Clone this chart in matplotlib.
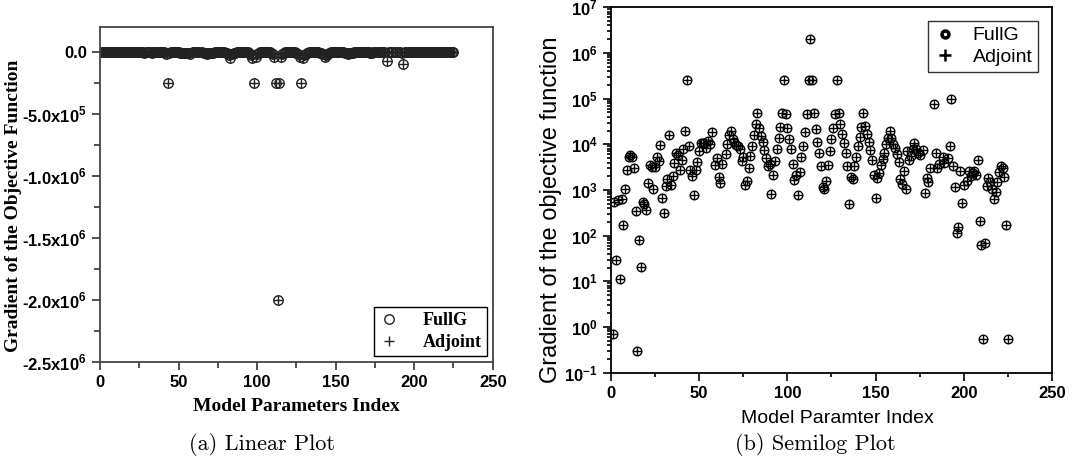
import matplotlib
matplotlib.use("Agg")
import matplotlib.pyplot as plt
from matplotlib.ticker import MultipleLocator, FixedLocator, FixedFormatter, LogLocator, NullFormatter

plt.rcParams['axes.unicode_minus'] = False

# parameter index and gradient magnitude
index = [1, 2, 3, 4, 5, 6, 7, 8, 9, 10, 11, 12, 13, 14, 15, 16, 17, 18, 19, 20,
         21, 22, 23, 24, 25, 26, 27, 28, 29, 30, 31, 32, 33, 34, 35, 36, 37, 38, 39, 40,
         41, 42, 43, 44, 45, 46, 47, 48, 49, 50, 51, 52, 53, 54, 55, 56, 57, 59, 60, 61,
         62, 63, 65, 66, 67, 68, 69, 70, 71, 72, 73, 74, 75, 76, 77, 78, 79, 80, 81, 82,
         83, 84, 85, 86, 87, 88, 89, 90, 91, 92, 93, 94, 95, 96, 97, 98, 99, 100, 101, 102,
         103, 104, 105, 106, 107, 108, 109, 110, 111, 112, 113, 114, 115, 116, 117, 118, 119, 120, 121, 122,
         123, 124, 125, 126, 127, 128, 129, 130, 131, 132, 133, 134, 135, 136, 137, 138, 139, 140, 141, 142,
         143, 144, 145, 146, 147, 148, 149, 150, 151, 152, 153, 154, 155, 156, 157, 158, 159, 160, 161, 162,
         163, 164, 165, 166, 167, 168, 169, 170, 171, 172, 173, 174, 175, 177, 178, 179, 180, 181, 183, 184,
         185, 186, 188, 189, 191, 192, 193, 194, 195, 196, 197, 198, 199, 200, 202, 203, 204, 205, 206, 207,
         208, 209, 210, 211, 212, 213, 214, 215, 216, 217, 218, 219, 220, 221, 222, 223, 224, 225]
magnitude = [0.7, 540, 30, 600, 11.5, 650, 175, 1050, 2700, 5200, 5900, 5200, 3100, 355, 0.3, 80, 21, 560, 500, 370,
             1400, 3500, 3200, 1050, 3200, 5200, 4400, 9800, 660, 310, 1250, 1740, 15800, 1300, 2050, 4000, 6600, 5900, 2700, 4500,
             7800, 20000, 250000, 9000, 2700, 2000, 790, 2700, 4200, 7000, 10500, 10500, 10500, 8500, 12000, 10000, 19000, 3600, 5000, 1900,
             1400, 3800, 6100, 10000, 16000, 20000, 13400, 11000, 9600, 9000, 7900, 4400, 5200, 1290, 1600, 3100, 5600, 9000, 16000, 27500,
             49000, 23000, 15000, 11000, 7600, 5000, 3400, 3800, 820, 2160, 4400, 7900, 13600, 24500, 49000, 250000, 47000, 23000, 13400, 7900,
             3800, 1650, 2160, 790, 2430, 5200, 9000, 18800, 47000, 250000, 2000000, 250000, 48000, 21500, 11500, 6400, 3300, 1140, 1050, 1600,
             3500, 7000, 13000, 23000, 47000, 250000, 49000, 27500, 16500, 10500, 6600, 3300, 500, 1900, 1700, 3300, 5400, 9000, 14600, 24000,
             48000, 25000, 16500, 11000, 7600, 4500, 2160, 670, 1800, 2400, 3500, 4700, 6300, 10000, 14000, 20000, 14000, 10000, 8200, 6100,
             4200, 1700, 1350, 2550, 1050, 7000, 4500, 5600, 7900, 10500, 8100, 6300, 5800, 7600, 850, 1800, 1520, 3100, 75000, 6300,
             3100, 3700, 5200, 3900, 5000, 9300, 100000, 3300, 1140, 115, 158, 2550, 520, 1300, 1600, 2550, 2000, 2350, 2650, 2100,
             4500, 210, 63, 0.56, 70, 1250, 1830, 1470, 1050, 640, 890, 1470, 2430, 3400, 3000, 1900, 170, 0.54]

fullg = [-m for m in magnitude]
adjoint = list(fullg)

lin_ticks = [0, -5e5, -1e6, -1.5e6, -2e6, -2.5e6]
lin_labels = ['0.0', '-5.0x10$^{\\mathdefault{5}}$', '-1.0x10$^{\\mathdefault{6}}$',
              '-1.5x10$^{\\mathdefault{6}}$', '-2.0x10$^{\\mathdefault{6}}$', '-2.5x10$^{\\mathdefault{6}}$']

fig = plt.figure(figsize=(10.73, 4.65), dpi=100)

sans = 'Liberation Sans'
serif = 'Liberation Serif'

# ---- (a) linear plot
ax1 = fig.add_axes([0.0932, 0.2222, 0.366, 0.7204])
ax1.plot(index, fullg, 'o', ls='none', mfc='none', mec='#222222', ms=6.8, mew=1.0, label='FullG')
ax1.plot(index, adjoint, '+', ls='none', color='#222222', ms=6.8, mew=1.0, label='Adjoint')
ax1.set_xlim(0, 250)
ax1.set_ylim(-2.5e6, 2e5)
ax1.xaxis.set_major_locator(MultipleLocator(50))
ax1.xaxis.set_minor_locator(MultipleLocator(25))
ax1.yaxis.set_major_locator(FixedLocator(lin_ticks))
ax1.yaxis.set_major_formatter(FixedFormatter(lin_labels))
ax1.yaxis.set_minor_locator(MultipleLocator(2.5e5))
ax1.tick_params(which='both', direction='out', width=1.2, color='#333333')
ax1.tick_params(which='major', length=6)
ax1.tick_params(which='minor', length=4)
for lab in ax1.get_xticklabels() + ax1.get_yticklabels():
    lab.set_fontfamily(sans)
    lab.set_fontweight('bold')
    lab.set_fontsize(12)
for sp in ax1.spines.values():
    sp.set_linewidth(1.3)
    sp.set_color('#444444')
fig.text(296 / 1073, 1 - 406 / 465, 'Model Parameters Index', fontfamily=serif, fontweight='bold',
         fontsize=14, ha='center', va='center')
fig.text(14 / 1073, 1 - 206 / 465, 'Gradient of the Objective Function', fontfamily=serif, fontweight='bold',
         fontsize=14, ha='center', va='center', rotation=90)
leg1 = ax1.legend(loc='lower right', prop={'family': serif, 'weight': 'bold', 'size': 13},
                  fancybox=False, edgecolor='black', framealpha=1, borderaxespad=0.3,
                  handlelength=1.0, handletextpad=1.4, borderpad=0.3, labelspacing=0.25)
leg1.get_frame().set_linewidth(1.0)

# ---- (b) semilog plot
ax2 = fig.add_axes([0.5694, 0.1985, 0.411, 0.7858])
ax2.semilogy(index, magnitude, 'o', ls='none', mfc='none', mec='black', ms=6.2, mew=1.0, label='FullG')
ax2.semilogy(index, magnitude, '+', ls='none', color='black', ms=6.2, mew=1.0, label='Adjoint')
ax2.set_xlim(0, 250)
ax2.set_ylim(1e-1, 1e7)
ax2.xaxis.set_major_locator(MultipleLocator(50))
ax2.xaxis.set_minor_locator(MultipleLocator(25))
ax2.yaxis.set_major_locator(LogLocator(base=10, numticks=20))
ax2.yaxis.set_minor_locator(LogLocator(base=10, subs=range(2, 10), numticks=20))
ax2.yaxis.set_minor_formatter(NullFormatter())
ax2.tick_params(which='both', direction='out', width=1.2, color='black')
ax2.tick_params(which='major', length=6)
ax2.tick_params(which='minor', length=3)
for lab in ax2.get_xticklabels() + ax2.get_yticklabels():
    lab.set_fontfamily(sans)
    lab.set_fontweight('bold')
    lab.set_fontsize(12)
for sp in ax2.spines.values():
    sp.set_linewidth(1.3)
fig.text(837 / 1073, 1 - 418 / 465, 'Model Paramter Index', fontfamily=sans, fontsize=14,
         ha='center', va='center')
fig.text(551 / 1073, 1 - 210 / 465, 'Gradient of the objective function', fontfamily=sans, fontsize=17,
         ha='center', va='center', rotation=90)
leg2 = ax2.legend(loc='upper right', prop={'family': sans, 'size': 14},
                  fancybox=False, edgecolor='#333333', framealpha=1, borderaxespad=0.7,
                  handlelength=1.2, handletextpad=0.8, borderpad=0.3, labelspacing=0.2)
leg2.get_frame().set_linewidth(1.0)
leg2.legend_handles[0].set_markersize(5)
leg2.legend_handles[0].set_markeredgewidth(2.5)
leg2.legend_handles[1].set_markersize(8)
leg2.legend_handles[1].set_markeredgewidth(1.8)

# captions
fig.text(262 / 1073, 1 - 444 / 465, '(a) Linear Plot', fontfamily='cmr10', fontsize=16, ha='center', va='center')
fig.text(815 / 1073, 1 - 444 / 465, '(b) Semilog Plot', fontfamily='cmr10', fontsize=16, ha='center', va='center')

fig.savefig('out.png', dpi=100)
